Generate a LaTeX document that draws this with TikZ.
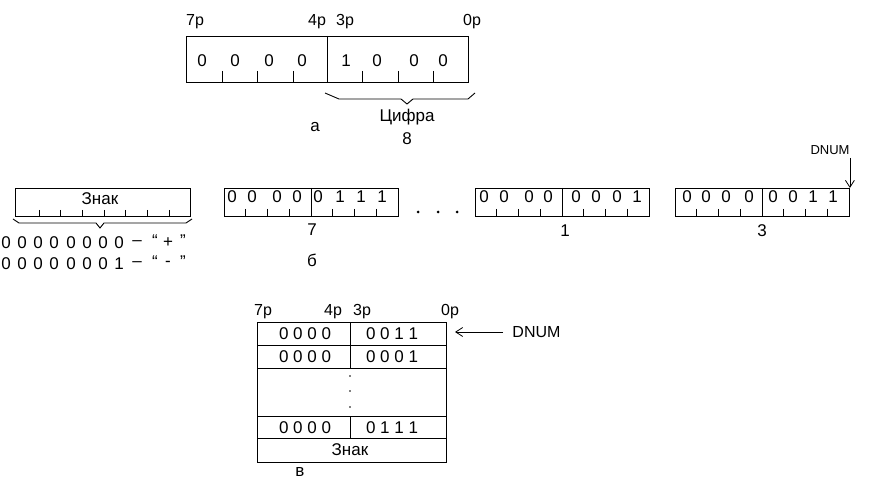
\documentclass[tikz,border=0pt]{standalone}
\usepackage{fontspec}
\setmainfont{Liberation Sans}
\usetikzlibrary{arrows.meta,positioning}

\tikzset{
  cell/.style={draw,line width=0.9pt,inner sep=0pt,anchor=north west},
  lbl/.style={font=\fontsize{16}{18}\selectfont},
  ptr/.style={line width=0.8pt,-{Straight Barb[length=7pt,width=9pt]}},
  dotc/.style={circle,fill,inner sep=0pt,minimum size=3pt}
}

\begin{document}
\begin{tikzpicture}[x=1pt,y=-1pt,font=\fontsize{17}{19}\selectfont,inner sep=0pt,line width=0.9pt]
  \useasboundingbox (0,0) rectangle (875,486);

  % a
  \node[cell,minimum width=282pt,minimum height=46pt] (ra) at (186,36) {};
  \draw (327,36) -- (327,82);
  \foreach \x in {222,257,293,362,398,433} \draw (\x,71) -- (\x,82);
  \foreach \x/\d [count=\i] in {202/0,235/0,269/0,302/0,346/1,377/0,414/0,443/0}
    \node (da\i) at (\x,61) {\d};
  \node[lbl] (a7) at (195,22) {7p};
  \node[lbl] (a4) at (317,22) {4p};
  \node[lbl] (a3) at (345,22) {3p};
  \node[lbl] (a0) at (472,22) {0p};
  \draw (325,93) -- (339,99) -- (401,99) -- (407,104) -- (413,99) -- (468,99) -- (475,93);
  \node (cif) at (407,117) {Цифра};
  \node[below=7pt of cif] (eight) {8};
  \node (capa) at (315,127) {а};

  % б
  \node[cell,minimum width=175pt,minimum height=28pt] (sgn) at (15,188) {};
  \foreach \x in {39,60,82,104,125,147,169} \draw (\x,210) -- (\x,216);
  \node (zn) at (100,199) {Знак};
  \draw (13,219) -- (19,223) -- (96,223) -- (100,228) -- (104,223) -- (186,223) -- (192,219);
  \foreach \x [count=\i] in {6,22,38,54,71,87,103}
    \node (pa\i) at (\x,243) {0};
  \node (pa8) at (119,243) {0};
  \node (pad) at (137,243) {--};
  \node (paq) at (155,241) {“};
  \node (pap) at (168,243) {+};
  \node (par) at (183,241) {”};
  \foreach \x [count=\i] in {6,22,38,54,71,87,103}
    \node (pb\i) at (\x,264) {0};
  \node (pb8) at (119,264) {1};
  \node (pbd) at (137,264) {--};
  \node (pbq) at (155,262) {“};
  \node (pbm) at (168,264) {-};
  \node (pbr) at (183,262) {”};

  \foreach \bx/\n/\ds in {224/s/{8/0,28/0,53/0,73/0,94/0,116/1,137/1,158/1},
                          475/f/{9/0,29/0,54/0,73/0,101/0,121/0,142/0,162/1},
                          675/t/{12/0,31/0,51/0,74/0,98/0,118/0,138/1,158/1}}{
    \node[cell,minimum width=174pt,minimum height=28pt] (b\n) at (\bx,188) {};
    \draw (\bx+87,188) -- (\bx+87,216);
    \foreach \k in {1,2,3,5,6,7} \draw (\bx+21.75*\k,209) -- (\bx+21.75*\k,216);
    \foreach \o/\d [count=\i] in \ds \node (b\n\i) at (\bx+\o,197) {\d};
  }
  \node[dotc] (e1) at (418,212) {};
  \node[dotc] (e2) at (438,212) {};
  \node[dotc] (e3) at (457,212) {};
  \node (ns) at (312,230) {7};
  \node (nf) at (565,231) {1};
  \node (nt) at (762,231) {3};
  \node (capb) at (312,260) {б};
  \node[font=\fontsize{13}{15}\selectfont] (dnb) at (830,150) {DNUM};
  \coordinate (pb) at (bt.north east);
  \draw[ptr] (dnb.south -| pb) ++(0,3) -- (pb);

  % в
  \node[cell,minimum width=189pt,minimum height=140pt] (stk) at (257,322) {};
  \foreach \y in {345,368,416,438} \draw (257,\y) -- (446,\y);
  \draw (350,322) -- (350,368);
  \draw (350,416) -- (350,438);
  \node (r1l) at (305,334) {0 0 0 0};
  \node (r1r) at (392,334) {0 0 1 1};
  \node (r2l) at (305,357) {0 0 0 0};
  \node (r2r) at (392,357) {0 0 0 1};
  \node (r4l) at (305,428) {0 0 0 0};
  \node (r4r) at (392,428) {0 1 1 1};
  \node (r5) at (350,450) {Знак};
  \foreach \y [count=\i] in {376,391,407} \node[dotc,minimum size=1.6pt] (v\i) at (350,\y) {};
  \node[lbl] (c7) at (263,312) {7p};
  \node[lbl] (c4) at (333,312) {4p};
  \node[lbl] (c3) at (362,312) {3p};
  \node[lbl] (c0) at (450,312) {0p};
  \node[lbl,anchor=west] (dnc) at (512,332) {DNUM};
  \coordinate (pc) at (455,332);
  \draw[ptr] ([xshift=-9pt]dnc.west) -- (pc);
  \node (capc) at (300,472) {в};
\end{tikzpicture}
\end{document}
